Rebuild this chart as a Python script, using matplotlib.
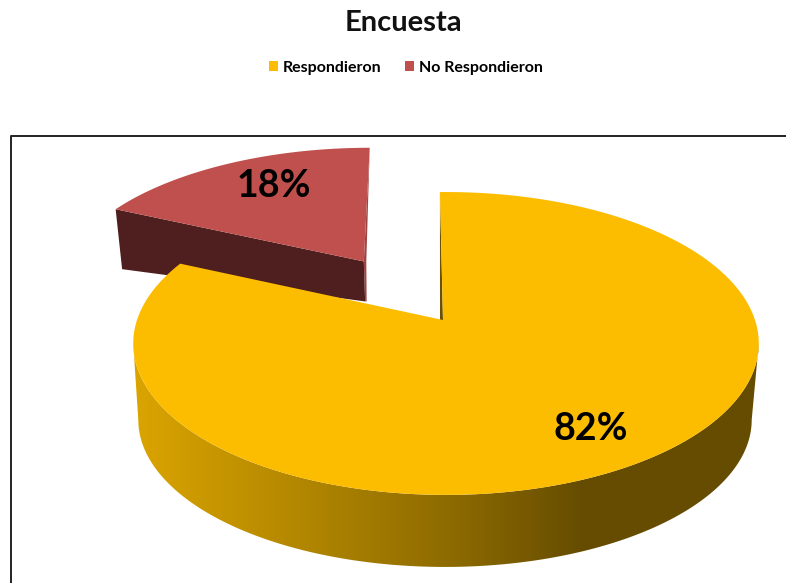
import numpy as np
import matplotlib.pyplot as plt
from matplotlib.colors import LinearSegmentedColormap
from matplotlib.patches import Patch, Polygon

plt.rcParams['font.family'] = ['Lato', 'DejaVu Sans']

labels = ['Respondieron', 'No Respondieron']
values = [82, 18]
colors = ['#FCBD00', '#C0504D']
side_dark = '#4F1F1F'
inner_red = '#9E4442'
inner_gold = '#6A5000'

# perspective of the disc: k shrinks what is further back
k = 0.155


def project(theta, x0, y0, a, b, shift=(0.0, 0.0)):
    u = np.sin(theta) + shift[0]
    v = np.cos(theta) + shift[1]
    d = 1 + k * v
    return np.column_stack([x0 + b * u / d, y0 - a * v / d])


def project_point(u, v, x0, y0, a, b):
    d = 1 + k * v
    return [x0 + b * u / d, y0 - a * v / d]


fig, ax = plt.subplots(figsize=(7.86, 5.83), dpi=100)
ax.set_position([0, 0, 1, 1])
ax.axis('off')

# chart frame runs off the right and bottom edges
ax.plot([800, 11, 11], [136, 136, 600], color='#222222', lw=1.4, zorder=1)

start = np.radians(-1.3)
sweep = 2 * np.pi * values[0] / sum(values)
top_main = (446, 320, 147.8, 309)
bottom_main = (445, 397, 143.6, 303)

# exploded small slice
mid = sweep + np.pi * values[1] / sum(values)
explode = 0.5 * np.array([np.sin(mid), np.cos(mid)])
top_small = (438, 320, 147.8, 311)
bottom_small = (443, 337.6, 91.3, 309.6)
th_small = np.linspace(sweep, 2 * np.pi, 80)
rim_small = project(th_small, *top_small, shift=explode)
apex_small = project_point(*explode, *top_small)
apex_small[0] += 4
apex_small_low = project_point(*explode, *bottom_small)
low_small = project(th_small, *bottom_small, shift=explode)

# thin inner face on the right of the small slice
ax.add_patch(Polygon([rim_small[-1], apex_small, apex_small_low,
                      [apex_small_low[0] + 1.5, apex_small_low[1]],
                      [apex_small[0] + 2.5, apex_small[1]]],
                     fc=inner_red, ec='none', zorder=2))
ax.add_patch(Polygon([rim_small[0], apex_small, apex_small_low, low_small[0]],
                     fc=side_dark, ec='none', zorder=2))
ax.add_patch(Polygon(np.vstack([[apex_small], rim_small]),
                     fc=colors[1], ec='none', zorder=3))

# rim of the large slice, shaded left to right
tangent = np.arccos(-k)
th_side = np.linspace(tangent, 2 * np.pi - tangent, 160)
side = np.vstack([project(th_side, *top_main),
                  project(th_side, *bottom_main)[::-1]])
side_patch = Polygon(side, fc='none', ec='none', zorder=4)
ax.add_patch(side_patch)
shade = LinearSegmentedColormap.from_list(
    'rim', [(0.0, '#DBA500'), (0.5, '#8F6C00'), (0.72, '#654C00'), (1.0, '#654C00')])
grad = np.linspace(0, 1, 300).reshape(1, -1)
im = ax.imshow(grad, extent=[130, 762, 600, 300], aspect='auto', cmap=shade, zorder=4)
im.set_clip_path(side_patch)

# large slice, clockwise from twelve o'clock
th_main = np.linspace(start, start + sweep, 300)
rim_main = project(th_main, *top_main)
apex_main = [443, 320]
ax.add_patch(Polygon([rim_main[0], apex_main, [apex_main[0] - 3, apex_main[1]]],
                     fc=inner_gold, ec='none', zorder=4))
ax.add_patch(Polygon(np.vstack([[apex_main], rim_main]),
                     fc=colors[0], ec='none', zorder=5))

ax.set_xlim(0, 786)
ax.set_ylim(583, 0)

ax.text(591, 429, f'{values[0]}%', fontsize=27, fontweight='bold',
        ha='center', va='center', color='black', zorder=6)
ax.text(274, 186, f'{values[1]}%', fontsize=27, fontweight='bold',
        ha='center', va='center', color='black', zorder=6)

ax.text(403, 23, 'Encuesta', fontsize=21, fontweight='bold',
        ha='center', va='center', color='#111111')

handles = [Patch(fc=c, ec='none', label=l) for c, l in zip(colors, labels)]
ax.legend(handles=handles, loc='center', bbox_to_anchor=(406, 68),
          bbox_transform=ax.transData, ncol=2, frameon=False,
          handlelength=0.56, handleheight=0.56, handletextpad=0.31, columnspacing=1.5,
          prop={'weight': 'bold', 'size': 11.5})

fig.savefig('out.png', dpi=100)
